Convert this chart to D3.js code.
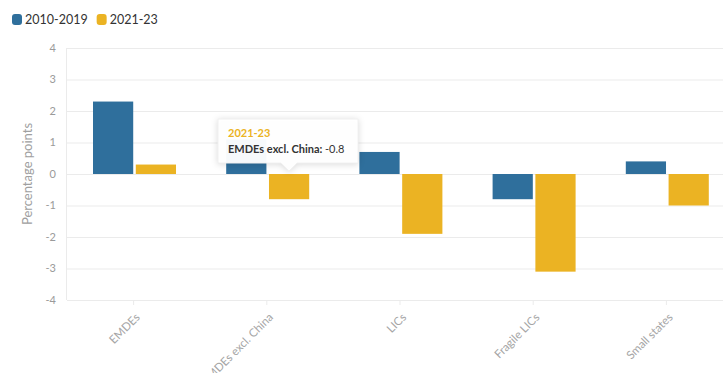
<!DOCTYPE html>
<html>
<head>
<meta charset="utf-8">
<script src="https://cdn.jsdelivr.net/npm/d3@7"></script>
<style>
  body { margin: 0; background: #fff; font-family: Lato, "Open Sans", sans-serif; }
  svg { display: block; }
</style>
</head>
<body>
<div id="chart"></div>
<script>
const categories = ["EMDEs", "EMDEs excl. China", "LICs", "Fragile LICs", "Small states"];
const seriesNames = ["2010-2019", "2021-23"];
const values2010 = [2.3, 1.1, 0.7, -0.8, 0.4];
const values2021 = [0.3, -0.8, -1.9, -3.1, -1.0];
const yTicks = [-4, -3, -2, -1, 0, 1, 2, 3, 4];
const colors = ["#2f6f9c", "#ebb323"];

const width = 723, height = 373;
const margin = { top: 48, right: -10, bottom: 73, left: 67 };

const svg = d3.select("#chart").append("svg").attr("width", width).attr("height", height);

const x = d3.scaleBand().domain(categories).range([margin.left, width - margin.right]);
const x1 = d3.scaleBand().domain(seriesNames).range([26, 109]).paddingInner(0.06);
const y = d3.scaleLinear().domain([-4, 4]).range([height - margin.bottom, margin.top]);

// grid
svg.append("g").selectAll("line").data(yTicks).join("line")
  .attr("x1", margin.left).attr("x2", width)
  .attr("y1", d => y(d) + 0.5).attr("y2", d => y(d) + 0.5)
  .attr("stroke", "#ebebeb");
svg.append("line").attr("x1", margin.left - 0.5).attr("x2", margin.left - 0.5)
  .attr("y1", margin.top).attr("y2", y(-4)).attr("stroke", "#ebebeb");

// y labels
svg.append("g").selectAll("text").data(yTicks).join("text")
  .attr("x", 56).attr("y", d => y(d)).attr("dy", "0.35em")
  .attr("text-anchor", "end").attr("fill", "#9a9a9a").attr("font-size", 11)
  .text(d => d);

svg.append("text")
  .attr("transform", `translate(32,${y(0)}) rotate(-90)`)
  .attr("text-anchor", "middle").attr("fill", "#a0a0a0").attr("font-size", 13)
  .text("Percentage points");

// x ticks and labels
const xg = svg.append("g");
xg.selectAll("line").data(categories).join("line")
  .attr("x1", d => x(d) + x.bandwidth() / 2).attr("x2", d => x(d) + x.bandwidth() / 2)
  .attr("y1", y(-4)).attr("y2", y(-4) + 5).attr("stroke", "#ebebeb");
xg.selectAll("text").data(categories).join("text")
  .attr("transform", d => `translate(${x(d) + x.bandwidth() / 2 + 7},${y(-4) + 18}) rotate(-45)`)
  .attr("text-anchor", "end").attr("fill", "#a5a5a5").attr("font-size", 11.5)
  .text(d => d);

// bars
const rows = categories.map((c, i) => ({ cat: c, vals: [values2010[i], values2021[i]] }));
const groups = svg.append("g").selectAll("g").data(rows).join("g")
  .attr("transform", d => `translate(${x(d.cat)},0)`);
groups.selectAll("rect").data(d => d.vals.map((v, j) => ({ v, s: seriesNames[j], j })))
  .join("rect")
  .attr("x", d => x1(d.s))
  .attr("width", x1.bandwidth())
  .attr("y", d => y(Math.max(0, d.v)))
  .attr("height", d => Math.abs(y(d.v) - y(0)))
  .attr("fill", d => colors[d.j]);

// legend
const legend = svg.append("g").attr("transform", "translate(12,14)");
let lx = 0;
seriesNames.forEach((s, i) => {
  const g = legend.append("g").attr("transform", `translate(${lx},0)`);
  g.append("rect").attr("width", 10).attr("height", 11).attr("rx", 3).attr("fill", colors[i]);
  const t = g.append("text").attr("x", 13).attr("y", 10).attr("font-size", 12.5).attr("fill", "#333").text(s);
  lx += 13 + t.node().getComputedTextLength() + 9;
});

// tooltip on EMDEs excl. China / 2021-23
const tipCat = categories[1];
const tipVal = values2021[1];
const px = x(tipCat) + x1(seriesNames[1]) + x1.bandwidth() / 2;
const tip = svg.append("g");
const tw = 140, th = 44, tx = 218, ty = 119;
tip.append("path")
  .attr("d", `M${tx},${ty} h${tw} v${th} H${px + 8} L${px},${th + ty + 8} L${px - 8},${ty + th} H${tx} Z`)
  .attr("fill", "rgba(255,255,255,0.96)")
  .attr("stroke", "#f0f0f0")
  .style("filter", "drop-shadow(0 1px 3px rgba(0,0,0,0.15))");
tip.append("text").attr("x", tx + 10).attr("y", ty + 18).attr("font-size", 11)
  .attr("font-weight", "bold").attr("fill", colors[1]).text(seriesNames[1]);
const t2 = tip.append("text").attr("x", tx + 10).attr("y", ty + 34).attr("font-size", 11).attr("fill", "#333");
t2.append("tspan").attr("font-weight", "bold").text(tipCat + ": ");
t2.append("tspan").text(tipVal);
</script>
</body>
</html>
